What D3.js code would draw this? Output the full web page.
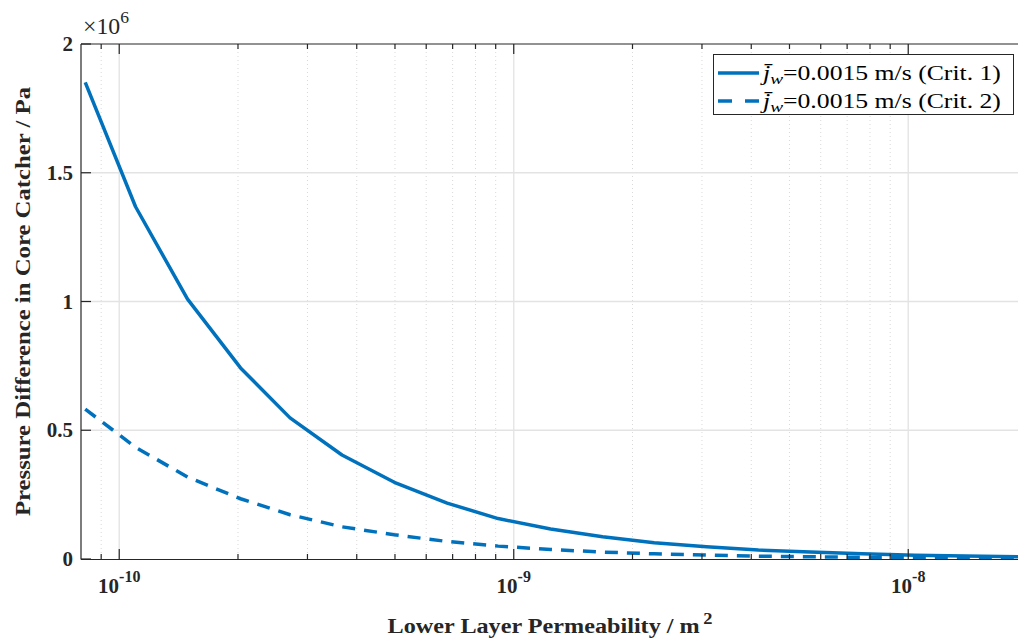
<!DOCTYPE html>
<html>
<head>
<meta charset="utf-8">
<script src="https://cdn.jsdelivr.net/npm/d3@7"></script>
<style>
  html, body { margin: 0; padding: 0; background: #fff; }
  svg { display: block; }
</style>
</head>
<body>
<svg id="chart" width="1018" height="638"></svg>
<script>
// Lower layer permeability (m^2)
const permeability = [8.2e-11, 1.10e-10, 1.49e-10, 2.03e-10, 2.71e-10, 3.67e-10, 4.98e-10, 6.78e-10,
  9.13e-10, 1.24e-9, 1.68e-9, 2.27e-9, 3.08e-9, 4.17e-9, 5.65e-9, 7.64e-9, 1.04e-8, 1.40e-8, 1.90e-8];
// Pressure difference in core catcher (Pa), criterion 1
const pressureCrit1 = [1.851e6, 1.368e6, 1.009e6, 0.742e6, 0.548e6, 0.404e6, 0.298e6, 0.217e6,
  0.157e6, 0.1165e6, 0.0866e6, 0.0634e6, 0.048e6, 0.035e6, 0.027e6, 0.020e6, 0.015e6, 0.012e6, 0.009e6];
// Pressure difference in core catcher (Pa), criterion 2
const pressureCrit2 = [0.582e6, 0.434e6, 0.318e6, 0.234e6, 0.172e6, 0.125e6, 0.094e6, 0.068e6,
  0.050e6, 0.037e6, 0.027e6, 0.020e6, 0.015e6, 0.011e6, 0.0085e6, 0.0063e6, 0.0047e6, 0.0036e6, 0.0027e6];
const seriesLabels = ["=0.0015 m/s (Crit. 1)", "=0.0015 m/s (Crit. 2)"];
const yTicks = [0, 0.5e6, 1e6, 1.5e6, 2e6];
const yTickLabels = ["0", "0.5", "1", "1.5", "2"];
const xDecades = [1e-10, 1e-9, 1e-8];
const xDecadeExponents = ["-10", "-9", "-8"];

const svg = d3.select("#chart");
const plotLeft = 81, plotRight = 1027, plotTop = 44, plotBottom = 559;
const blue = "#0072BD";
const axisColor = "#262626";
const labelFont = "'Liberation Serif', 'DejaVu Serif', serif";

const x = d3.scaleLog().domain([8e-11, 2e-8]).range([plotLeft, plotRight]);
const y = d3.scaleLinear().domain([0, 2e6]).range([plotBottom, plotTop]);

// widen a text horizontally (in its own frame) to a given width
function widenTo(textSel, width) {
  const w = textSel.node().getBBox().width;
  textSel.attr("transform", `scale(${width / w},1)`);
}

// minor positions (2..9 x decade) inside the domain
const minor = [];
for (let e = -11; e <= -8; e++) {
  for (let m = 2; m <= 9; m++) {
    const v = m * Math.pow(10, e);
    if (v > x.domain()[0] && v < x.domain()[1]) minor.push(v);
  }
}

const grid = svg.append("g");
// minor vertical grid (dotted)
grid.selectAll("line.minor").data(minor).join("line")
  .attr("x1", d => x(d)).attr("x2", d => x(d))
  .attr("y1", plotTop).attr("y2", plotBottom)
  .attr("stroke", "#d9d9d9").attr("stroke-width", 1)
  .attr("stroke-dasharray", "1,3");
// major vertical grid
grid.selectAll("line.major").data(xDecades).join("line")
  .attr("x1", d => x(d)).attr("x2", d => x(d))
  .attr("y1", plotTop).attr("y2", plotBottom)
  .attr("stroke", "#e6e6e6").attr("stroke-width", 1.5);
// horizontal grid
grid.selectAll("line.h").data(yTicks.slice(1, -1)).join("line")
  .attr("x1", plotLeft).attr("x2", plotRight)
  .attr("y1", d => y(d)).attr("y2", d => y(d))
  .attr("stroke", "#e3e3e3").attr("stroke-width", 1.5);

// data lines
const line = d3.line().x((d, i) => x(permeability[i])).y(d => y(d));
svg.append("path").datum(pressureCrit1)
  .attr("d", line).attr("fill", "none")
  .attr("stroke", blue).attr("stroke-width", 3.5).attr("stroke-linejoin", "round");
svg.append("path").datum(pressureCrit2)
  .attr("d", line).attr("fill", "none")
  .attr("stroke", blue).attr("stroke-width", 3.5)
  .attr("stroke-dasharray", "13,9");

// axes (ticks point inward, box on top)
const axes = svg.append("g").attr("stroke", axisColor);
axes.append("line").attr("x1", plotLeft).attr("x2", plotRight).attr("y1", plotBottom + 0.5).attr("y2", plotBottom + 0.5).attr("stroke-width", 1.2);
axes.append("line").attr("x1", plotLeft).attr("x2", plotRight).attr("y1", plotTop).attr("y2", plotTop).attr("stroke-width", 1.2);
axes.append("line").attr("x1", plotLeft).attr("x2", plotLeft).attr("y1", plotTop).attr("y2", plotBottom + 0.5).attr("stroke-width", 1.2);
// x ticks bottom and top
[[plotBottom, -1], [plotTop, 1]].forEach(([yy, dir]) => {
  axes.selectAll(null).data(xDecades).join("line")
    .attr("x1", d => x(d)).attr("x2", d => x(d))
    .attr("y1", yy).attr("y2", yy + dir * 10).attr("stroke-width", 1.2);
  axes.selectAll(null).data(minor).join("line")
    .attr("x1", d => x(d)).attr("x2", d => x(d))
    .attr("y1", yy).attr("y2", yy + dir * 5).attr("stroke-width", 1.2);
});
// y ticks
axes.selectAll(null).data(yTicks).join("line")
  .attr("x1", plotLeft).attr("x2", plotLeft + 10)
  .attr("y1", d => y(d)).attr("y2", d => y(d)).attr("stroke-width", 1.2);

// y tick labels
svg.append("g").selectAll("text").data(yTicks).join("text")
  .attr("x", plotLeft - 8).attr("y", d => y(d) + 7)
  .attr("text-anchor", "end")
  .attr("font-family", labelFont).attr("font-weight", "bold").attr("font-size", 21)
  .attr("fill", axisColor)
  .text((d, i) => yTickLabels[i]);

// x tick labels (10 with superscript exponent)
const xl = svg.append("g").selectAll("text").data(xDecades).join("text")
  .attr("x", d => x(d)).attr("y", 593)
  .attr("text-anchor", "middle")
  .attr("font-family", labelFont).attr("font-weight", "bold").attr("font-size", 21)
  .attr("fill", axisColor);
xl.append("tspan").text("10");
xl.append("tspan").attr("dy", -11).attr("font-size", 16).text((d, i) => xDecadeExponents[i]);

// exponent multiplier
const multG = svg.append("g").attr("transform", "translate(83,34)");
const mult = multG.append("text")
  .attr("font-family", labelFont).attr("font-size", 23).attr("fill", axisColor);
mult.append("tspan").text("\u00d710");
mult.append("tspan").attr("dy", -11).attr("font-size", 17).text("6");
widenTo(mult, 46);

// axis titles
const xtG = svg.append("g").attr("transform", "translate(550,633)");
const xt = xtG.append("text")
  .attr("text-anchor", "middle")
  .attr("font-family", labelFont).attr("font-weight", "bold").attr("font-size", 21)
  .attr("fill", axisColor);
xt.append("tspan").text("Lower Layer Permeability / m");
xt.append("tspan").attr("dy", -9).attr("dx", 3).attr("font-size", 16).text("2");
widenTo(xt, 325);

const ytG = svg.append("g")
  .attr("transform", `translate(30, ${(plotTop + plotBottom) / 2}) rotate(-90)`);
const yt = ytG.append("text")
  .attr("text-anchor", "middle")
  .attr("font-family", labelFont).attr("font-weight", "bold").attr("font-size", 21)
  .attr("fill", axisColor)
  .text("Pressure Difference in Core Catcher / Pa");
widenTo(yt, 430);

// legend
const lg = svg.append("g");
lg.append("rect").attr("x", 713.5).attr("y", 54.5).attr("width", 300).attr("height", 60)
  .attr("fill", "#fff").attr("stroke", axisColor).attr("stroke-width", 1);
const rows = [73, 101];
rows.forEach((ry, i) => {
  lg.append("line").attr("x1", 718).attr("x2", 759).attr("y1", ry).attr("y2", ry)
    .attr("stroke", blue).attr("stroke-width", 3.5)
    .attr("stroke-dasharray", i === 1 ? "14,13" : null);
  const tg = lg.append("g").attr("transform", `translate(763,${ry + 7})`);
  const t = tg.append("text")
    .attr("font-family", labelFont).attr("font-size", 20).attr("fill", "#000");
  t.append("tspan").attr("font-style", "italic").text("j\u0304");
  t.append("tspan").attr("font-style", "italic").attr("font-size", 15).attr("dy", 4).text("w");
  t.append("tspan").attr("dy", -4).text(seriesLabels[i]);
  widenTo(t, 242);
});
</script>
</body>
</html>
